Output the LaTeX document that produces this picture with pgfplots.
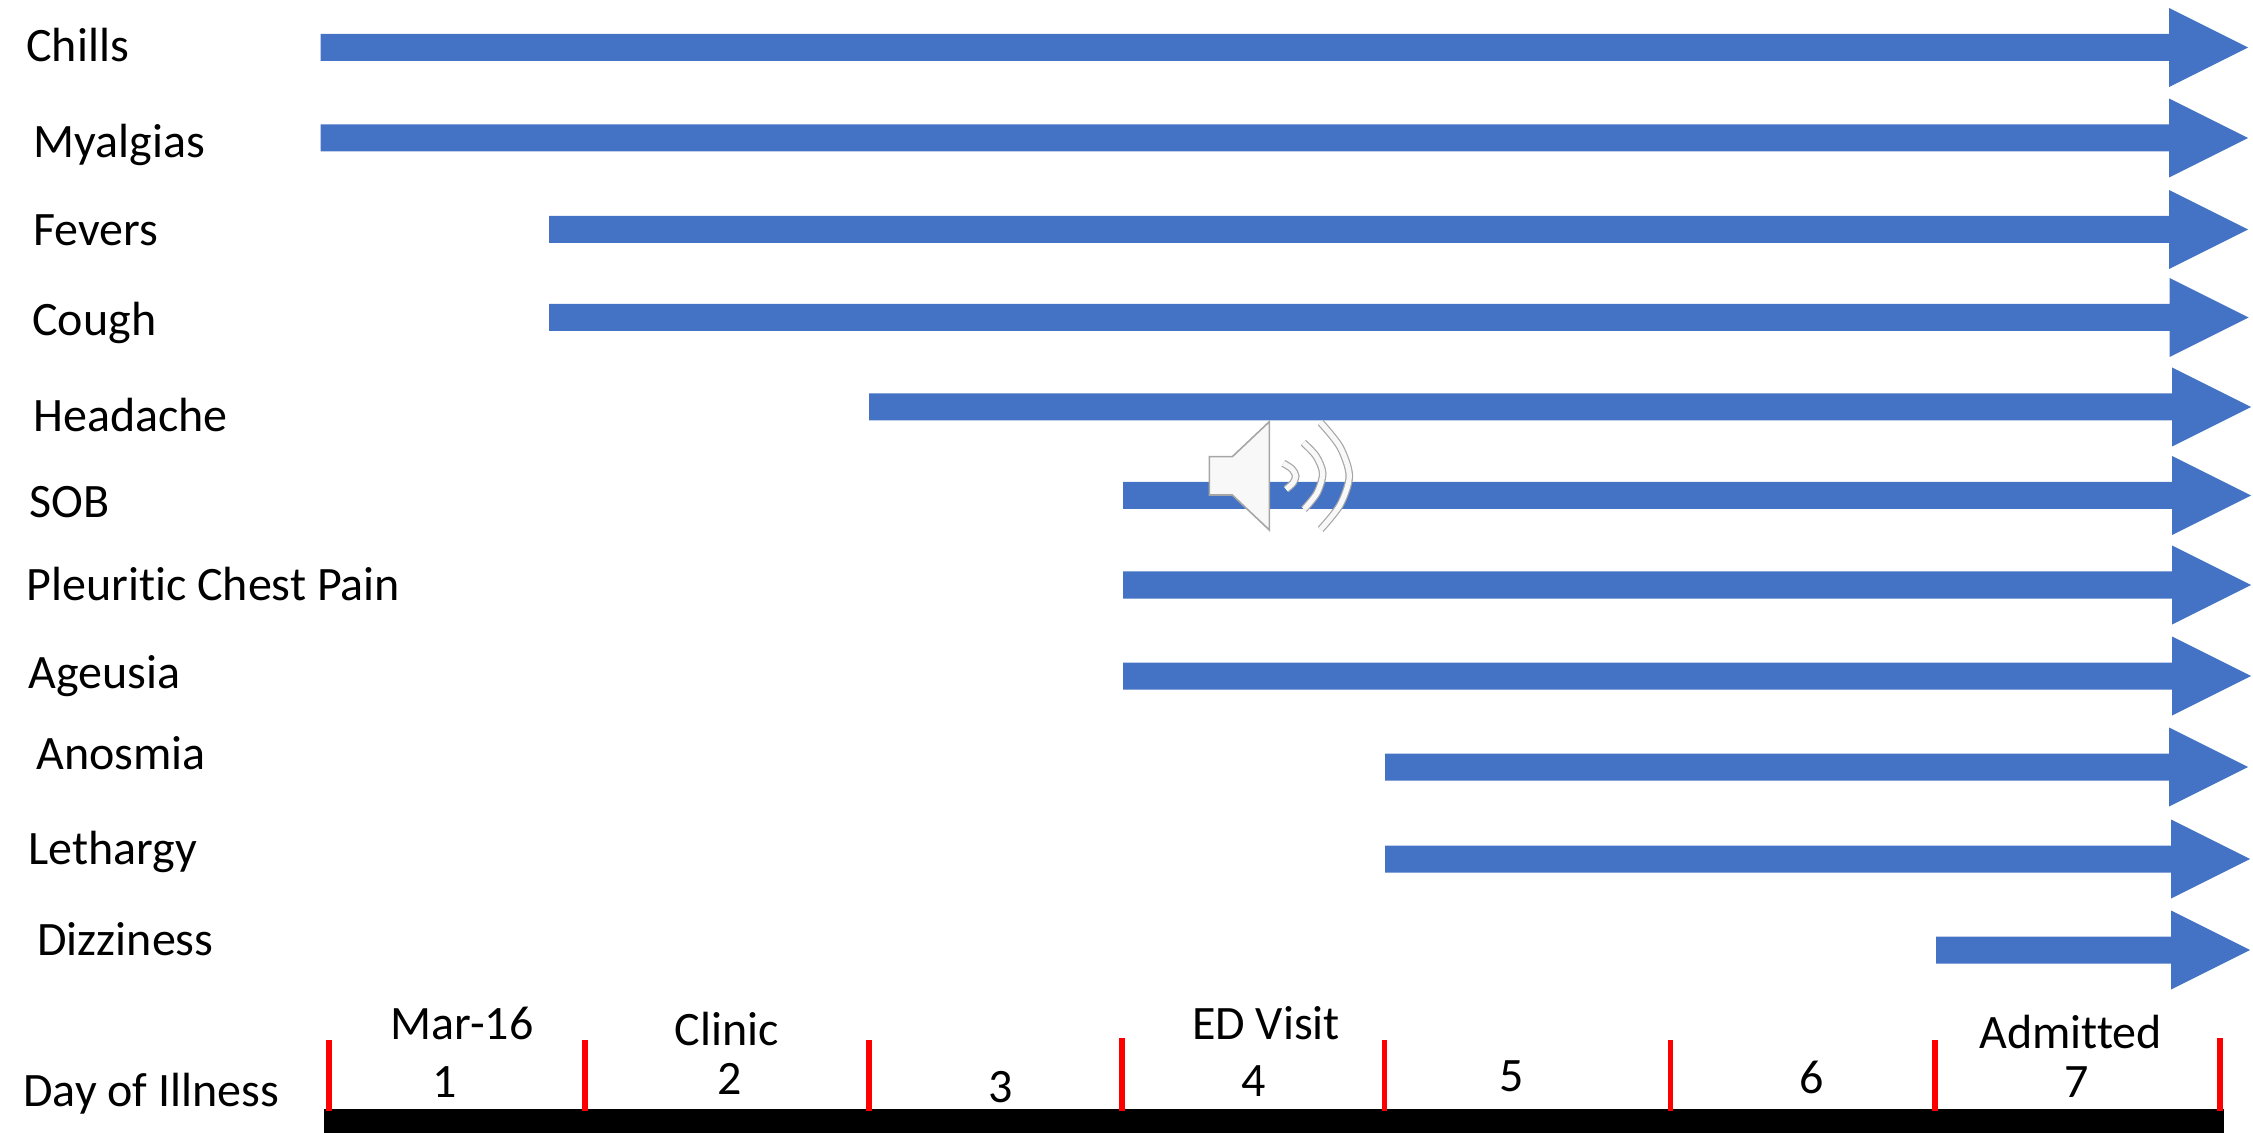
\documentclass[border=0pt]{standalone}
\usepackage{fontspec}
\setmainfont{Carlito}[Ligatures=NoCommon]
\usepackage{pgfplots}
\pgfplotsset{compat=1.18}
\definecolor{arrowblue}{HTML}{4472C4}
\definecolor{tickred}{HTML}{FF0000}
\definecolor{iconedge}{HTML}{A6A6A6}
\definecolor{iconfill}{HTML}{F8F8F8}
\tikzset{lab/.style={anchor=base west,inner sep=0pt,font=\fontsize{24}{28}\selectfont,text=black},
         cen/.style={anchor=base,inner sep=0pt,font=\fontsize{24}{28}\selectfont,text=black}}
\pgfplotsset{arrow/.style={fill=arrowblue,draw=none,forget plot},
             daytick/.style={tickred,line width=2.8pt,forget plot}}
\begin{document}
\begin{tikzpicture}
\useasboundingbox (0,0) rectangle (1126.5pt,566.5pt);
\begin{axis}[
  at={(0,0)},anchor=south west,
  scale only axis,
  width=1126.5pt,height=566.5pt,
  xmin=0,xmax=2253,ymin=0,ymax=1133,
  y dir=reverse,
  hide axis,
  clip=true,
]
% symptom arrows: onset on the left, still present at admission on the right
\addplot[arrow] coordinates {(320.7,34)(2169,34)(2169,8)(2248,47.5)(2169,87)(2169,61)(320.7,61)} -- cycle;
\addplot[arrow] coordinates {(320.7,124.5)(2169,124.5)(2169,98.5)(2248,138)(2169,177.5)(2169,151.5)(320.7,151.5)} -- cycle;
\addplot[arrow] coordinates {(549,216)(2169,216)(2169,190)(2248,229.5)(2169,269)(2169,243)(549,243)} -- cycle;
\addplot[arrow] coordinates {(549,304)(2169.5,304)(2169.5,278)(2248.5,317.5)(2169.5,357)(2169.5,331)(549,331)} -- cycle;
\addplot[arrow] coordinates {(869,393.5)(2172,393.5)(2172,367.5)(2251,407)(2172,446.5)(2172,420.5)(869,420.5)} -- cycle;
\addplot[arrow] coordinates {(1123,482)(2172,482)(2172,456)(2251,495.5)(2172,535)(2172,509)(1123,509)} -- cycle;
\addplot[arrow] coordinates {(1123,571.5)(2172,571.5)(2172,545.5)(2251,585)(2172,624.5)(2172,598.5)(1123,598.5)} -- cycle;
\addplot[arrow] coordinates {(1123,662.5)(2172,662.5)(2172,636.5)(2251,676)(2172,715.5)(2172,689.5)(1123,689.5)} -- cycle;
\addplot[arrow] coordinates {(1385,753.5)(2169,753.5)(2169,727.5)(2248,767)(2169,806.5)(2169,780.5)(1385,780.5)} -- cycle;
\addplot[arrow] coordinates {(1385,845.5)(2171,845.5)(2171,819.5)(2250,859)(2171,898.5)(2171,872.5)(1385,872.5)} -- cycle;
\addplot[arrow] coordinates {(1936,936.5)(2171,936.5)(2171,910.5)(2250,950)(2171,989.5)(2171,963.5)(1936,963.5)} -- cycle;

% day-of-illness bar and the red day boundaries
\addplot[fill=black,draw=none,forget plot] coordinates {(324,1109)(2223.5,1109)(2223.5,1133)(324,1133)} -- cycle;
\addplot[daytick] coordinates {(329,1040)(329,1110.5)};
\addplot[daytick] coordinates {(585,1040)(585,1110.5)};
\addplot[daytick] coordinates {(869,1040)(869,1110.5)};
\addplot[daytick] coordinates {(1122,1038)(1122,1110.5)};
\addplot[daytick] coordinates {(1384.6,1040)(1384.6,1110.5)};
\addplot[daytick] coordinates {(1670.6,1040)(1670.6,1110.5)};
\addplot[daytick] coordinates {(1935,1040)(1935,1110.5)};
\addplot[daytick] coordinates {(2220,1038)(2220,1110.5)};

% speaker icon
\addplot[fill=iconfill,draw=iconedge,line width=0.8pt,forget plot] coordinates {(1209.3,456.7)(1232.3,456.7)(1269.3,421.7)(1269.3,530)(1232.3,495)(1209.3,495)} -- cycle;
\addplot[iconedge,line width=3.8pt,smooth,forget plot] coordinates {(1283.3,463.3)(1292,469)(1295.7,476)(1293,483)(1286,489.3)};
\addplot[iconfill,line width=2.6pt,smooth,forget plot] coordinates {(1283.3,463.3)(1292,469)(1295.7,476)(1293,483)(1286,489.3)};
\addplot[iconedge,line width=3.8pt,smooth,forget plot] coordinates {(1303.3,442.7)(1316,456)(1322.7,473.3)(1317,493)(1304,509.3)};
\addplot[iconfill,line width=2.6pt,smooth,forget plot] coordinates {(1303.3,442.7)(1316,456)(1322.7,473.3)(1317,493)(1304,509.3)};
\addplot[iconedge,line width=3.8pt,smooth,forget plot] coordinates {(1320.7,422.7)(1340,447)(1349.3,476)(1340,505)(1320.7,529.3)};
\addplot[iconfill,line width=2.6pt,smooth,forget plot] coordinates {(1320.7,422.7)(1340,447)(1349.3,476)(1340,505)(1320.7,529.3)};

% symptom names
\node[lab] at (axis cs:26,61.5) {Chills};
\node[lab] at (axis cs:33,157.5) {Myalgias};
\node[lab] at (axis cs:33,245.5) {Fevers};
\node[lab] at (axis cs:32,335.5) {Cough};
\node[lab] at (axis cs:33,431.5) {Headache};
\node[lab] at (axis cs:29,517.5) {SOB};
\node[lab] at (axis cs:26,600) {Pleuritic Chest Pain};
\node[lab] at (axis cs:28,688) {Ageusia};
\node[lab] at (axis cs:36,769) {Anosmia};
\node[lab] at (axis cs:28,864) {Lethargy};
\node[lab] at (axis cs:37,955) {Dizziness};

% timeline labels
\node[lab] at (axis cs:23,1106) {Day of Illness};
\node[cen] at (axis cs:462,1039) {Mar-16};
\node[cen] at (axis cs:727,1045) {Clinic};
\node[cen] at (axis cs:1266,1039) {ED Visit};
\node[cen] at (axis cs:2070.6,1048) {Admitted};
\node[cen] at (axis cs:445,1097) {1};
\node[cen] at (axis cs:730,1094) {2};
\node[cen] at (axis cs:1001,1102) {3};
\node[cen] at (axis cs:1254,1096) {4};
\node[cen] at (axis cs:1512,1091) {5};
\node[cen] at (axis cs:1812,1093) {6};
\node[cen] at (axis cs:2076.5,1097) {7};
\end{axis}
\end{tikzpicture}
\end{document}
